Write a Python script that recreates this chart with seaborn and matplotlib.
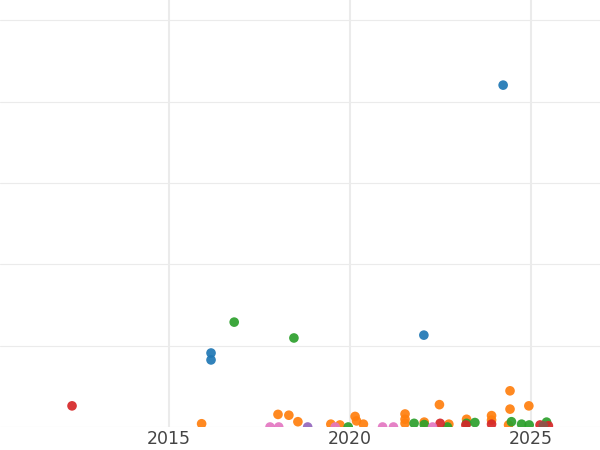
import pandas as pd
import matplotlib
matplotlib.use("Agg")
import matplotlib.pyplot as plt
import seaborn as sns

# Values (x = year, y = value; grid step 20)
blue_x = [2016.16, 2016.16, 2022.04, 2024.23]
blue_y = [18.2, 16.5, 22.6, 84.1]

orange_x = [2015.90, 2018.01, 2018.31, 2018.56, 2019.47, 2019.72, 2020.14, 2020.18,
            2020.37, 2021.52, 2021.52, 2021.52, 2022.05, 2022.47, 2022.73, 2023.22,
            2023.91, 2023.91, 2024.42, 2024.42, 2024.38, 2024.94]
orange_y = [0.8, 3.1, 2.9, 1.3, 0.7, 0.5, 2.6, 1.5,
            0.7, 3.2, 1.9, 0.9, 1.2, 5.5, 0.7, 1.9,
            2.8, 1.7, 8.9, 4.4, 0.5, 5.2]

green_x = [2016.80, 2018.45, 2019.95, 2021.77, 2022.05, 2022.69, 2023.22, 2023.45,
           2024.46, 2024.74, 2024.95, 2025.43]
green_y = [25.8, 21.9, 0.0, 0.9, 0.6, 0.0, 0.9, 1.1, 1.3, 0.7, 0.5, 1.2]

red_x = [2012.32, 2022.49, 2023.20, 2023.91, 2025.25, 2025.48]
red_y = [5.2, 0.9, 0.5, 0.7, 0.5, 0.3]

purple_x = [2018.83]
purple_y = [0.0]

brown_x = [2025.34]
brown_y = [0.3]

pink_x = [2017.79, 2018.03, 2019.59, 2020.90, 2021.20, 2022.28]
pink_y = [0.0, 0.0, 0.0, 0.0, 0.0, 0.0]

series = [("A", blue_x, blue_y), ("B", orange_x, orange_y), ("C", green_x, green_y),
          ("D", red_x, red_y), ("E", purple_x, purple_y), ("F", brown_x, brown_y),
          ("G", pink_x, pink_y)]

rows = []
for name, xs, ys in series:
    for x, y in zip(xs, ys):
        rows.append({"group": name, "year": x, "value": y})
df = pd.DataFrame(rows)

palette = dict(zip([s[0] for s in series], sns.color_palette("tab10", 7)))

sns.set_style("white")
fig = plt.figure(figsize=(6, 4.5), dpi=100)
ax = fig.add_axes([0, 23 / 450, 1, 427 / 450])

sns.scatterplot(data=df, x="year", y="value", hue="group", palette=palette,
                s=48, alpha=0.92, edgecolor="none", legend=False, ax=ax)

ax.set_xlim(2010.33, 2026.906)
ax.set_ylim(0, 105.04)
ax.set_xticks([2015, 2020, 2025])
ax.set_yticks([0, 20, 40, 60, 80, 100])
ax.set_yticklabels([])
ax.set_xlabel("")
ax.set_ylabel("")
ax.tick_params(axis="both", length=0)
ax.tick_params(axis="x", labelsize=12.5, labelcolor="#444444", pad=2)
for sp in ax.spines.values():
    sp.set_visible(False)
ax.xaxis.grid(True, color="#ebebeb", linewidth=1.5)
ax.yaxis.grid(True, color="#ebebeb", linewidth=0.8)
ax.set_axisbelow(True)

fig.savefig("out.png", dpi=100)
